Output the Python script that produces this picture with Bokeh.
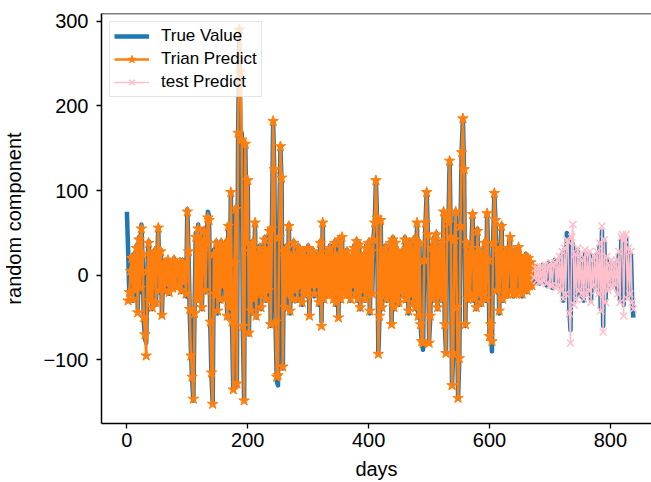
from bokeh.plotting import figure
from bokeh.models import Range1d, Legend, LegendItem, Span, FixedTicker
from bokeh.embed import file_html
from bokeh.resources import INLINE

# ---------------- data (one value every 2 days) ----------------
true_values = [
    75, 30, -22, 8, 18, -30, 25, -15, 35, -40,
    45, -20, 60, 20, -55, -75, -80, 10, 40, -25,
    25, -40, 15, 30, -35, 20, 55, -20, 30, -48,
    12, -20, 18, -8, 15, -22, 10, 5, -12, 20,
    -15, 8, 15, -10, 12, -20, 18, -5, 10, -25,
    78, 25, -45, -90, -125, -148, -40, 50, -25, 60,
    -30, 45, -40, 25, 55, -20, 40, 75, 70, -60,
    -120, -152, 30, -20, 40, -45, 30, -30, 40, -10,
    35, -25, 40, -50, 60, -40, 98, -60, -135, 20,
    80, -130, 165, 280, 160, 168, -70, -148, 155, 40,
    110, -70, 30, -45, 40, -30, 60, -50, 25, -20,
    35, -40, 20, -25, 45, -30, 30, -20, 55, -60,
    60, 182, 120, -60, -125, -130, 50, 152, 110, -110,
    30, -40, 35, -20, 60, -45, 25, -30, 40, -15,
    20, -30, 35, -10, 25, -35, 30, -20, 15, -25,
    35, -48, 20, -15, 30, -25, 18, -10, 25, -35,
    40, -55, 62, -30, 20, -25, 30, -15, 35, -20,
    25, -30, 40, -35, 20, -50, 45, -30, 45, -20,
    25, -15, 30, -25, 15, -30, 20, -10, 35, -25,
    42, -30, 38, -40, 20, -15, 25, -30, 35, -20,
    40, -45, 30, -20, 45, 60, 112, 65, -93, -50,
    60, -40, 30, -25, 35, -30, 25, -20, 40, -58,
    45, -40, 40, -25, 30, -35, 20, -15, 30, -25,
    45, -30, 35, -45, 40, -20, 30, -35, 45, -40,
    62, -50, 40, -60, -80, -88, 20, 60, 98, 50,
    -78, -50, 35, -30, 45, -20, 50, -40, 30, -25,
    40, -30, 75, -60, -90, 70, 60, 135, 40, -130,
    -90, 45, 75, -40, -145, -100, 60, 150, 185, 120,
    -60, 40, -30, 25, -20, 35, 72, -30, 20, -40,
    55, -25, 30, -35, 25, -20, 40, -30, 73, 20,
    -75, -60, -90, 40, 97, 60, -20, 30, -45, 35,
    60, -30, 25, -20, 30, -25, 35, 45, -15, 20,
    -25, 30, -20, 25, 33, -15, 20, -25, 15, -10,
    25, -20, 18, -15, 12, -10, 8, -5, 10, -8,
    5, -10, 8, -5, 12, -8, 10, -12, 6, 15,
    -10, 12, -15, 10, 18, -12, 15, -10, 20, -15,
    25, -30, 30, -20, 50, 45, -40, -65, 40, 35,
    -30, 20, -25, 30, -15, 20, -25, 15, -30, 25,
    -20, 20, -15, 25, -30, 15, -10, 20, -15, 25,
    -20, 35, -40, 52, -60, 40, -30, 20, -15, 10,
    -10, 15, -12, 10, -8, 15, -20, 25, -30, 42,
    45, -35, 40, 45, -25, 30, -20, 25, -30, -50,
]

train_predict = [
    -30, -20, 5, 20, -28, 22, -18, 32, -44,
    42, -15, 55, 25, -50, -70, -95, 5, 38, -30,
    22, -38, 18, 28, -32, 22, 56, -18, 28, -47,
    10, -18, 15, -10, 18, -20, 8, 6, -15, 18,
    -12, 10, 12, -12, 15, -18, 15, -8, 12, -22,
    75, 28, -40, -95, -120, -146, -45, 45, -28, 55,
    -28, 42, -38, 28, 52, -18, 38, 68, 65, -55,
    -115, -152, 25, -22, 38, -42, 28, -28, 38, -12,
    32, -28, 38, -48, 58, -38, 98, -55, -135, 15,
    78, -128, 168, 290, 240, 160, -60, -148, 155, 38,
    112, -68, 28, -42, 38, -28, 62, -48, 22, -22,
    32, -38, 22, -22, 42, -28, 28, -18, 52, -58,
    55, 182, 125, -55, -120, -118, 45, 152, 115, -108,
    28, -38, 32, -22, 58, -42, 22, -28, 38, -18,
    22, -28, 32, -12, 22, -32, 28, -22, 18, -22,
    32, -48, 22, -12, 28, -22, 20, -12, 22, -32,
    38, -60, 62, -28, 18, -22, 28, -18, 32, -22,
    22, -28, 38, -32, 22, -50, 42, -28, 45, -22,
    22, -18, 28, -22, 18, -28, 22, -12, 32, -22,
    40, -28, 36, -38, 22, -18, 22, -28, 32, -22,
    38, -42, 28, -22, 42, 62, 112, 68, -93, -48,
    65, -38, 28, -22, 32, -28, 22, -22, 38, -58,
    42, -38, 38, -28, 28, -32, 22, -18, 28, -22,
    42, -28, 32, -42, 38, -22, 28, -32, 42, -38,
    62, -48, 38, -58, -78, -80, 18, 62, 98, 48,
    -80, -48, 32, -28, 42, -22, 48, -38, 28, -22,
    38, -28, 75, -58, -92, 68, 62, 135, 45, -130,
    -92, 42, 75, -38, -145, -98, 58, 145, 185, 125,
    -58, 38, -28, 22, -22, 32, 72, -28, 22, -38,
    52, -22, 28, -32, 22, -22, 38, -28, 73, 18,
    -72, -58, -78, 38, 97, 65, -18, 28, -42, 32,
    58, -28, 22, -22, 28, -22, 32, 45, -18, 22,
    -22, 28, -22, 22, 33, -18, 22, -22, 18, -12,
    22, -18, 20, -12, 15, -12, 10,
]

test_predict = [
    -3, 8, -6,
    8, -8, 10, -8, 10, -6, 12, -10, 8, 12,
    -12, 15, -12, 12, 15, -15, 18, -12, 22, -18,
    28, -28, 32, -22, 42, 40, -45, -80, 45, 60,
    -35, 25, -28, 32, -18, 25, -22, 18, -28, 30,
    -22, 25, -18, 28, -32, 18, -12, 22, -18, 28,
    -22, 38, -42, 58, -67, 42, -32, 22, -18, 12,
    -12, 18, -15, 12, -10, 18, -22, 28, -32, 45,
    48, -48, 42, 48, -28, 32, -22, 28, -32, -40,
]

day_step = 2
train_start_day = 2
test_start_day = 674
x_ticks = [0, 200, 400, 600, 800]
y_ticks = [-100, 0, 100, 200, 300]

true_days = list(range(0, day_step * len(true_values), day_step))
train_days = list(range(train_start_day, train_start_day + day_step * len(train_predict), day_step))
test_days = list(range(test_start_day, test_start_day + day_step * len(test_predict), day_step))

# ---------------- figure ----------------
FONT = "Liberation Sans"
BLUE = "#1f77b4"
ORANGE = "#ff7f0e"
PINK = "#ffc0cb"

y_top = 309
p = figure(
    width=651, height=482,
    output_backend="svg", toolbar_location=None,
    x_range=Range1d(-42, 868), y_range=Range1d(-175, y_top),
    min_border_left=101, min_border_right=0,
    min_border_top=13, min_border_bottom=58,
)
p.xgrid.visible = False
p.ygrid.visible = False
p.outline_line_color = None
p.background_fill_color = "white"
p.border_fill_color = "white"

r_true = p.line(true_days, true_values, line_color=BLUE, line_width=4.5, line_join="round")

r_train_line = p.line(train_days, train_predict, line_color=ORANGE, line_width=2.5, line_join="round")
r_train_pts = p.scatter(train_days, train_predict, marker="star", size=11,
                        fill_color=ORANGE, line_color=ORANGE)

r_test_line = p.line(test_days, test_predict, line_color=PINK, line_width=1.5, line_join="round")
r_test_pts = p.scatter(test_days, test_predict, marker="x", size=10,
                       line_color=PINK, line_width=1.5)

# top spine
p.add_layout(Span(location=y_top, dimension="width", line_color="black", line_width=1.5))

# axes
p.xaxis.ticker = FixedTicker(ticks=x_ticks)
p.yaxis.ticker = FixedTicker(ticks=y_ticks)
p.xaxis.axis_label = "days"
p.yaxis.axis_label = "random component"
for ax in (p.xaxis, p.yaxis):
    ax.axis_label_text_font = FONT
    ax.axis_label_text_font_size = "20px"
    ax.axis_label_text_font_style = "normal"
    ax.axis_label_text_color = "black"
    ax.major_label_text_font = FONT
    ax.major_label_text_font_size = "20px"
    ax.major_label_text_color = "black"
    ax.axis_line_color = "black"
    ax.axis_line_width = 1.5
    ax.major_tick_line_color = "black"
    ax.major_tick_line_width = 1.3
    ax.major_tick_in = 0
    ax.major_tick_out = 5
    ax.minor_tick_line_color = None
p.xaxis.major_label_standoff = 4
p.xaxis.axis_label_standoff = 8
p.yaxis.major_label_standoff = 8
p.yaxis.axis_label_standoff = 15

legend = Legend(
    items=[
        LegendItem(label="True Value", renderers=[r_true]),
        LegendItem(label="Trian Predict", renderers=[r_train_line, r_train_pts]),
        LegendItem(label="test Predict", renderers=[r_test_line, r_test_pts]),
    ],
    location="top_left",
    margin=8, padding=4, spacing=3,
    glyph_width=35, glyph_height=20, label_height=20,
    label_standoff=12,
    label_text_font=FONT, label_text_font_size="17px", label_text_color="black",
    border_line_color="#cccccc", border_line_width=1,
    background_fill_color="white", background_fill_alpha=0.8,
)
p.add_layout(legend)

open("out.html", "w").write(file_html(p, INLINE))
